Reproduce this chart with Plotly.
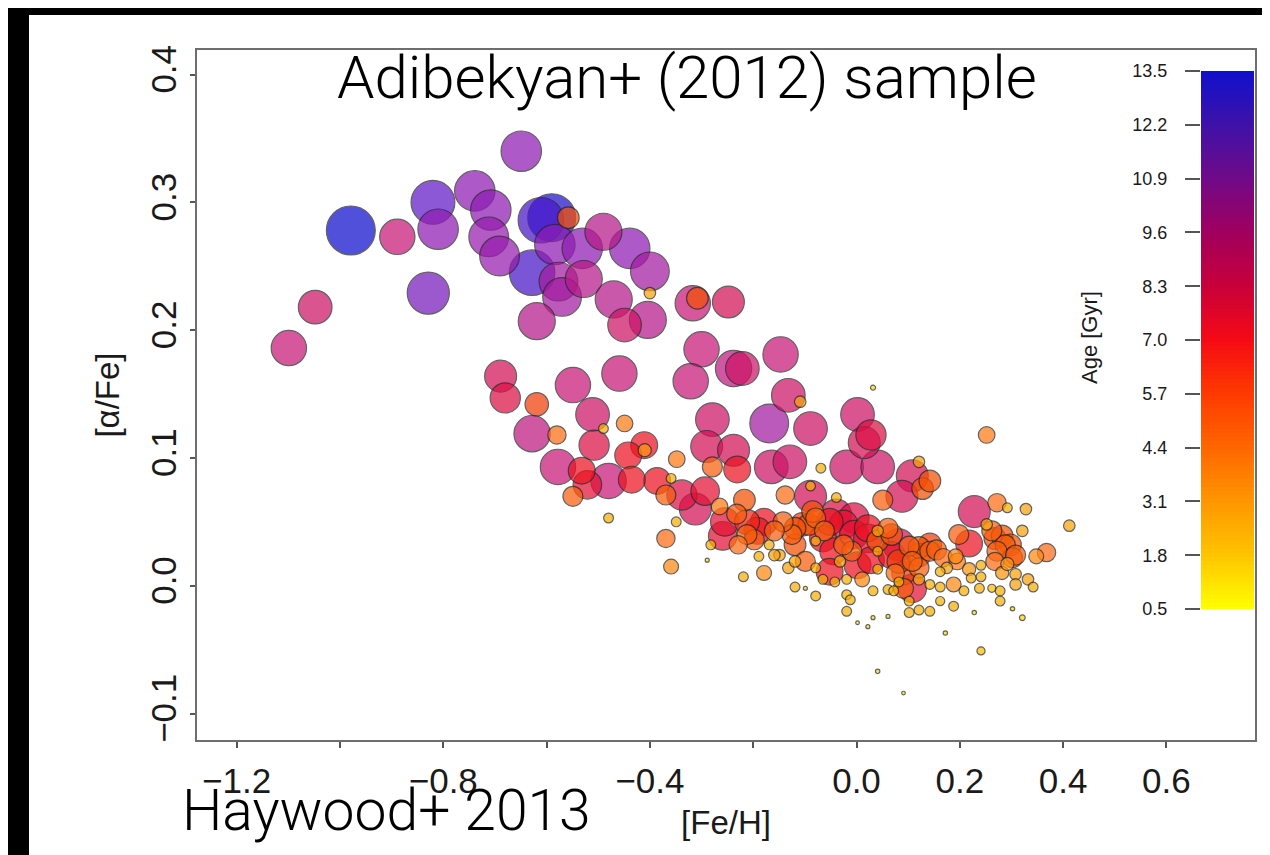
import numpy as np
import plotly.graph_objects as go

# ---------------- data ----------------
feh = [-0.979, -0.889, -0.820, -0.810, -0.739, -0.708, -0.712, -0.691, -0.649, -0.611,
       -0.590, -0.558, -0.584, -0.531, -0.490, -0.439, -0.400, -0.628, -0.528, -0.577,
       -0.570, -0.470, -0.449, -0.404, -0.619, -0.829, -1.048, -1.099, -0.400, -0.317,
       -0.308, -0.248, -0.300, -0.321, -0.238, -0.221, -0.459, -0.549, -0.689, -0.680,
       -0.619, -0.628, -0.580, -0.511, -0.449, -0.490, -0.508, -0.279, -0.578, -0.532,
       -0.480, -0.549, -0.411, -0.410, -0.348, -0.386, -0.338, -0.293, -0.290, -0.279,
       -0.238, -0.231, -0.217, -0.480, -0.521, -0.442, -0.435, -0.359, -0.369, -0.359,
       -0.289, -0.312, -0.259, -0.282, -0.229, -0.198, -0.219, -0.179, -0.189, -0.169,
       -0.232, -0.212, -0.179, -0.149, -0.132, -0.119, -0.079, -0.099, -0.138, -0.089,
       -0.089, -0.069, -0.039, -0.105, -0.125, -0.092, -0.079, -0.065, -0.099, -0.079,
       -0.045, -0.052, -0.039, -0.025, -0.005, -0.005, -0.009, 0.002, 0.011, -0.019,
       -0.019, -0.012, -0.019, 0.002, 0.022, 0.032, 0.061, 0.032, 0.041, 0.028,
       0.041, 0.022, 0.041, 0.061, 0.082, 0.068, 0.061, 0.075, 0.091, 0.108,
       0.091, 0.102, 0.102, 0.121, 0.142, 0.121, 0.121, 0.142, 0.121, 0.142,
       0.162, 0.162, 0.188, 0.162, 0.188, 0.175, 0.192, 0.218, 0.222, 0.241,
       0.241, 0.238, 0.262, 0.278, 0.278, 0.228, 0.302, 0.321, 0.172, 0.241,
       0.041, 0.091, 0.228, 0.272, 0.292, 0.328, 0.412, 0.252, 0.218, 0.198,
       0.252, 0.268, 0.288, 0.302, 0.268, 0.282, 0.308, 0.308, 0.332, 0.342,
       0.321, 0.348, 0.368, 0.128, 0.142, 0.108, 0.088, 0.051, 0.121, 0.002,
       0.028, 0.015, -0.019, 0.041, 0.032, -0.089, -0.169, -0.132, -0.109, -0.165,
       -0.129, -0.147, -0.369, -0.349, -0.265, -0.142, -0.119, -0.079,
       -0.085, -0.052, -0.062, 0.022, 0.041, 0.102, 0.155, 0.168, 0.195, 0.262,
       0.282, 0.298, 0.272, 0.308, 0.292, -0.159, -0.119, -0.065, -0.042, 0.082,
       0.072, 0.142, 0.208, 0.082, 0.108, -0.119, -0.192, -0.159, -0.255, -0.212,
       -0.025, -0.032, 0.068, 0.121]

alpha_fe = [0.278, 0.273, 0.300, 0.279, 0.309, 0.294, 0.273, 0.258, 0.340, 0.286,
            0.288, 0.288, 0.267, 0.264, 0.277, 0.264, 0.246, 0.245, 0.240, 0.238,
            0.226, 0.224, 0.204, 0.208, 0.207, 0.229, 0.218, 0.186, 0.229, 0.221,
            0.225, 0.222, 0.185, 0.160, 0.170, 0.170, 0.166, 0.157, 0.164, 0.147,
            0.142, 0.119, 0.118, 0.134, 0.127, 0.123, 0.110, 0.130, 0.093, 0.090,
            0.082, 0.070, 0.110, 0.106, 0.099, 0.082, 0.071, 0.074, 0.109, 0.093,
            0.106, 0.091, 0.067, 0.053, 0.079, 0.102, 0.083, 0.084, 0.037, 0.015,
            0.020, 0.060, 0.039, 0.032, 0.032, 0.036, 0.007, 0.010, 0.023, 0.032,
            0.056, 0.050, 0.050, 0.024, 0.014, -0.001, -0.008, -0.002, 0.071, 0.070,
            0.078, 0.092, 0.069, 0.048, 0.040, 0.048, 0.053, 0.037, 0.019, 0.014,
            0.027, 0.011, 0.056, 0.048, 0.053, 0.040, 0.027, 0.016, 0.005, 0.005,
            -0.007, -0.011, -0.020, -0.029, -0.032, -0.025, -0.024, -0.004, 0.013, 0.020,
            0.027, 0.037, 0.043, 0.045, 0.032, 0.024, -0.003, 0.010, 0.010, -0.002,
            -0.002, -0.012, -0.021, -0.019, -0.020, 0.005, 0.014, 0.027, 0.030, 0.032,
            -0.001, -0.012, -0.016, 0.011, 0.001, 0.014, 0.023, 0.013, 0.006, 0.016,
            0.007, -0.002, -0.002, -0.004, -0.012, -0.021, -0.018, -0.025, -0.037, -0.051,
            -0.067, -0.084, 0.058, 0.065, 0.061, 0.060, 0.047, 0.118, 0.033, 0.040,
            0.048, 0.037, 0.032, 0.022, 0.019, 0.010, 0.009, 0.001, 0.005, -0.001,
            0.043, 0.023, 0.026, 0.076, 0.082, 0.086, 0.070, 0.067, 0.097, 0.134,
            0.118, 0.112, 0.093, 0.093, 0.155, 0.123, 0.127, 0.149, 0.144, 0.093,
            0.097, 0.181, 0.071, 0.050, 0.062, 0.050, 0.032, 0.035,
            0.058, 0.050, 0.043, 0.045, 0.035, 0.031, 0.028, 0.022, 0.019, 0.043,
            0.039, 0.032, 0.027, 0.024, 0.017, 0.024, 0.019, 0.005, 0.003, 0.003,
            -0.004, 0.001, -0.004, 0.019, 0.019, 0.045, 0.043, 0.043, 0.050, 0.040,
            0.032, 0.019, 0.040, 0.024]

age_gyr = [13.5, 9.5, 12.0, 11.0, 11.0, 11.0, 10.8, 10.8, 11.0, 12.5,
           13.2, 5.5, 11.0, 11.0, 10.0, 11.0, 10.5, 12.5, 10.0, 10.5,
           10.5, 10.0, 9.0, 10.0, 10.0, 11.5, 9.0, 9.5, 2.5, 9.5,
           5.5, 8.5, 9.5, 9.5, 9.8, 9.0, 9.5, 9.5, 8.5, 8.0,
           6.0, 9.8, 4.5, 9.0, 4.0, 2.0, 8.0, 9.0, 9.5, 7.0,
           9.5, 5.0, 7.0, 3.0, 4.0, 7.0, 8.0, 7.5, 8.5, 5.0,
           8.5, 7.0, 5.5, 2.0, 7.5, 7.0, 7.0, 2.0, 4.5, 3.5,
           0.3, 8.5, 7.5, 2.0, 4.5, 5.0, 2.0, 3.5, 2.0, 2.0,
           5.0, 6.5, 7.0, 2.5, 2.5, 2.0, 2.0, 0.3, 4.5, 8.5,
           2.0, 2.0, 2.0, 6.0, 5.0, 5.5, 5.0, 7.0, 5.0, 2.0,
           7.0, 7.0, 8.0, 7.5, 8.0, 7.5, 5.0, 7.0, 3.5, 2.0,
           2.0, 2.0, 2.0, 0.2, 0.3, 0.3, 0.3, 2.0, 2.0, 7.0,
           2.0, 7.5, 2.5, 5.0, 8.5, 7.0, 2.0, 4.5, 6.0, 7.5,
           5.0, 2.0, 2.0, 2.0, 2.0, 2.5, 5.0, 5.0, 5.5, 6.0,
           2.0, 1.8, 2.0, 2.0, 3.5, 2.5, 3.5, 3.0, 2.0, 2.0,
           2.0, 2.0, 1.5, 2.0, 2.0, 0.4, 0.4, 0.8, 0.4, 1.5,
           0.4, 0.2, 8.5, 4.5, 2.0, 2.5, 2.5, 4.0, 7.0, 5.0,
           2.5, 5.5, 5.0, 5.0, 4.5, 3.0, 2.5, 2.5, 2.5, 2.0,
           2.5, 3.5, 4.5, 5.5, 5.5, 8.5, 8.5, 5.0, 2.5, 9.0,
           8.0, 8.5, 9.0, 9.0, 0.6, 9.0, 10.5, 9.0, 2.5, 9.0,
           9.0, 9.5, 5.0, 2.0, 4.0, 5.0, 5.5, 2.0,
           5.5, 7.0, 5.0, 7.0, 5.5, 5.0, 5.0, 4.5, 4.0, 5.0,
           5.5, 5.5, 5.0, 5.0, 3.0, 2.5, 2.5, 2.0, 2.0, 2.0,
           2.0, 2.0, 2.0, 6.0, 5.0, 5.5, 7.0, 5.0, 7.5, 5.0,
           5.0, 2.5, 5.5, 6.0]

age_ticks = [0.5, 1.8, 3.1, 4.4, 5.7, 7.0, 8.3, 9.6, 10.9, 12.2, 13.5]
x_tickvals = [-1.2, -1.0, -0.8, -0.6, -0.4, -0.2, 0.0, 0.2, 0.4, 0.6]
x_ticktext = ["\u22121.2", "", "\u22120.8", "", "\u22120.4", "", "0.0", "0.2", "0.4", "0.6"]
y_tickvals = [-0.1, 0.0, 0.1, 0.2, 0.3, 0.4]
y_ticktext = ["\u22120.1", "0.0", "0.1", "0.2", "0.3", "0.4"]

# ---------------- styling ----------------
W, H = 1270, 855
L, R, T, B = 189, 1247, 42, 732          # plot-area pixel box
PW, PH = R - L, B - T

def px_x(px):
    return (px - L) / PW

def px_y(py):
    return (B - py) / PH

age_min, age_max = 0.5, 13.5
# colour ramp of the legend bar
bar_scale = [
    [0.00, "#FFFF00"], [0.10, "#FFC400"], [0.20, "#FF9600"], [0.30, "#FF6600"],
    [0.40, "#FF3A00"], [0.50, "#F50A14"], [0.60, "#C8003A"], [0.70, "#A0005E"],
    [0.80, "#700A88"], [0.90, "#3E12A8"], [1.00, "#1010CC"],
]
# same ramp for the translucent markers (slightly brighter so they read as in the source)
marker_scale = [
    [0.00, "#FFE000"], [0.10, "#F5B400"], [0.20, "#FF9410"], [0.30, "#FF7018"],
    [0.40, "#F34A00"], [0.50, "#EC1222"], [0.60, "#D61050"], [0.70, "#C61878"],
    [0.80, "#921CB2"], [0.90, "#5818C8"], [1.00, "#0E0ECE"],
]

a = np.array(age_gyr)
order = np.argsort(-a, kind="stable")        # oldest drawn first, youngest on top
xs = np.array(feh)[order]
ys = np.array(alpha_fe)[order]
ag = a[order]
sizes = 3.4 * ag + 3.0

axis_font = dict(family="Liberation Sans, Arial, sans-serif", size=35, color="#1a1a1a")
lab_font = dict(family="Liberation Sans, Arial, sans-serif", size=33, color="#1a1a1a")

fig = go.Figure()

fig.add_trace(go.Scatter(
    x=xs, y=ys, mode="markers",
    marker=dict(size=sizes, color=ag, colorscale=marker_scale, cmin=age_min, cmax=age_max,
                opacity=0.72, line=dict(color="#262626", width=1.2), showscale=False),
    hoverinfo="skip", showlegend=False, xaxis="x", yaxis="y",
))

# colour legend drawn as a one-column heatmap on its own small axes
bar_ages = np.linspace(age_min, age_max, 131)
fig.add_trace(go.Heatmap(
    x=[0], y=bar_ages, z=bar_ages.reshape(-1, 1), colorscale=bar_scale,
    zmin=age_min, zmax=age_max, showscale=False, hoverinfo="skip",
    xaxis="x2", yaxis="y2",
))

fig.update_layout(
    width=W, height=H,
    margin=dict(l=L, r=W - R, t=T, b=H - B, pad=0),
    paper_bgcolor="white", plot_bgcolor="white",
    showlegend=False,
    xaxis=dict(
        range=[-1.2768, 0.7715], tickmode="array", tickvals=x_tickvals, ticktext=x_ticktext,
        ticks="outside", ticklen=6, tickwidth=1.5, tickcolor="#555555", ticklabelstandoff=3,
        showline=True, mirror=True, linecolor="#6e6e6e", linewidth=2,
        showgrid=False, zeroline=False, tickfont=axis_font,
        title=dict(text="[Fe/H]", font=lab_font, standoff=12),
        domain=[0, 1],
    ),
    yaxis=dict(
        range=[-0.1207, 0.4192], tickmode="array", tickvals=y_tickvals, ticktext=y_ticktext,
        ticks="outside", ticklen=5, tickwidth=1.5, tickcolor="#555555", tickangle=-90,
        showline=True, mirror=True, linecolor="#6e6e6e", linewidth=2,
        showgrid=False, zeroline=False, tickfont=axis_font,
        title=dict(text="[\u03b1/Fe]", font=lab_font, standoff=14),
        domain=[0, 1],
    ),
    xaxis2=dict(domain=[px_x(1193), px_x(1246)], anchor="y2", visible=False, range=[-0.5, 0.5],
                fixedrange=True),
    yaxis2=dict(domain=[px_y(601), px_y(63)], anchor="x2", range=[age_min, age_max],
                tickmode="array", tickvals=age_ticks, ticktext=[f"{v:.1f}" for v in age_ticks],
                ticks="outside", ticklen=15, tickwidth=1.5, tickcolor="#555555",
                ticklabelstandoff=14, side="left",
                tickfont=dict(family="Liberation Sans, Arial, sans-serif", size=18, color="#1a1a1a"),
                showline=False, showgrid=False, zeroline=False, fixedrange=True),
)

annotations = [
    dict(text="Adibekyan+ (2012) sample", x=px_x(327), y=px_y(69), xref="paper", yref="paper",
         xanchor="left", yanchor="middle", showarrow=False,
         font=dict(family="Roboto, Lato, sans-serif", size=60, color="#000000", weight=300)),
    dict(text="Haywood+ 2013", x=px_x(172), y=px_y(802), xref="paper", yref="paper",
         xanchor="left", yanchor="middle", showarrow=False,
         font=dict(family="Roboto, Lato, sans-serif", size=57, color="#000000", weight=300)),
    dict(text="Age [Gyr]", x=px_x(1081), y=px_y(330), xref="paper", yref="paper",
         xanchor="center", yanchor="middle", textangle=-90, showarrow=False,
         font=dict(family="Liberation Sans, Arial, sans-serif", size=22, color="#1a1a1a")),
]
fig.update_layout(annotations=annotations)

# black slide border on the left and top edges
fig.add_shape(type="rect", xref="paper", yref="paper", x0=px_x(0), x1=px_x(21), y0=px_y(H), y1=px_y(0),
              fillcolor="black", line=dict(width=0), layer="above")
fig.add_shape(type="rect", xref="paper", yref="paper", x0=px_x(0), x1=px_x(W), y0=px_y(7), y1=px_y(0),
              fillcolor="black", line=dict(width=0), layer="above")

fig.write_html("out.html")
